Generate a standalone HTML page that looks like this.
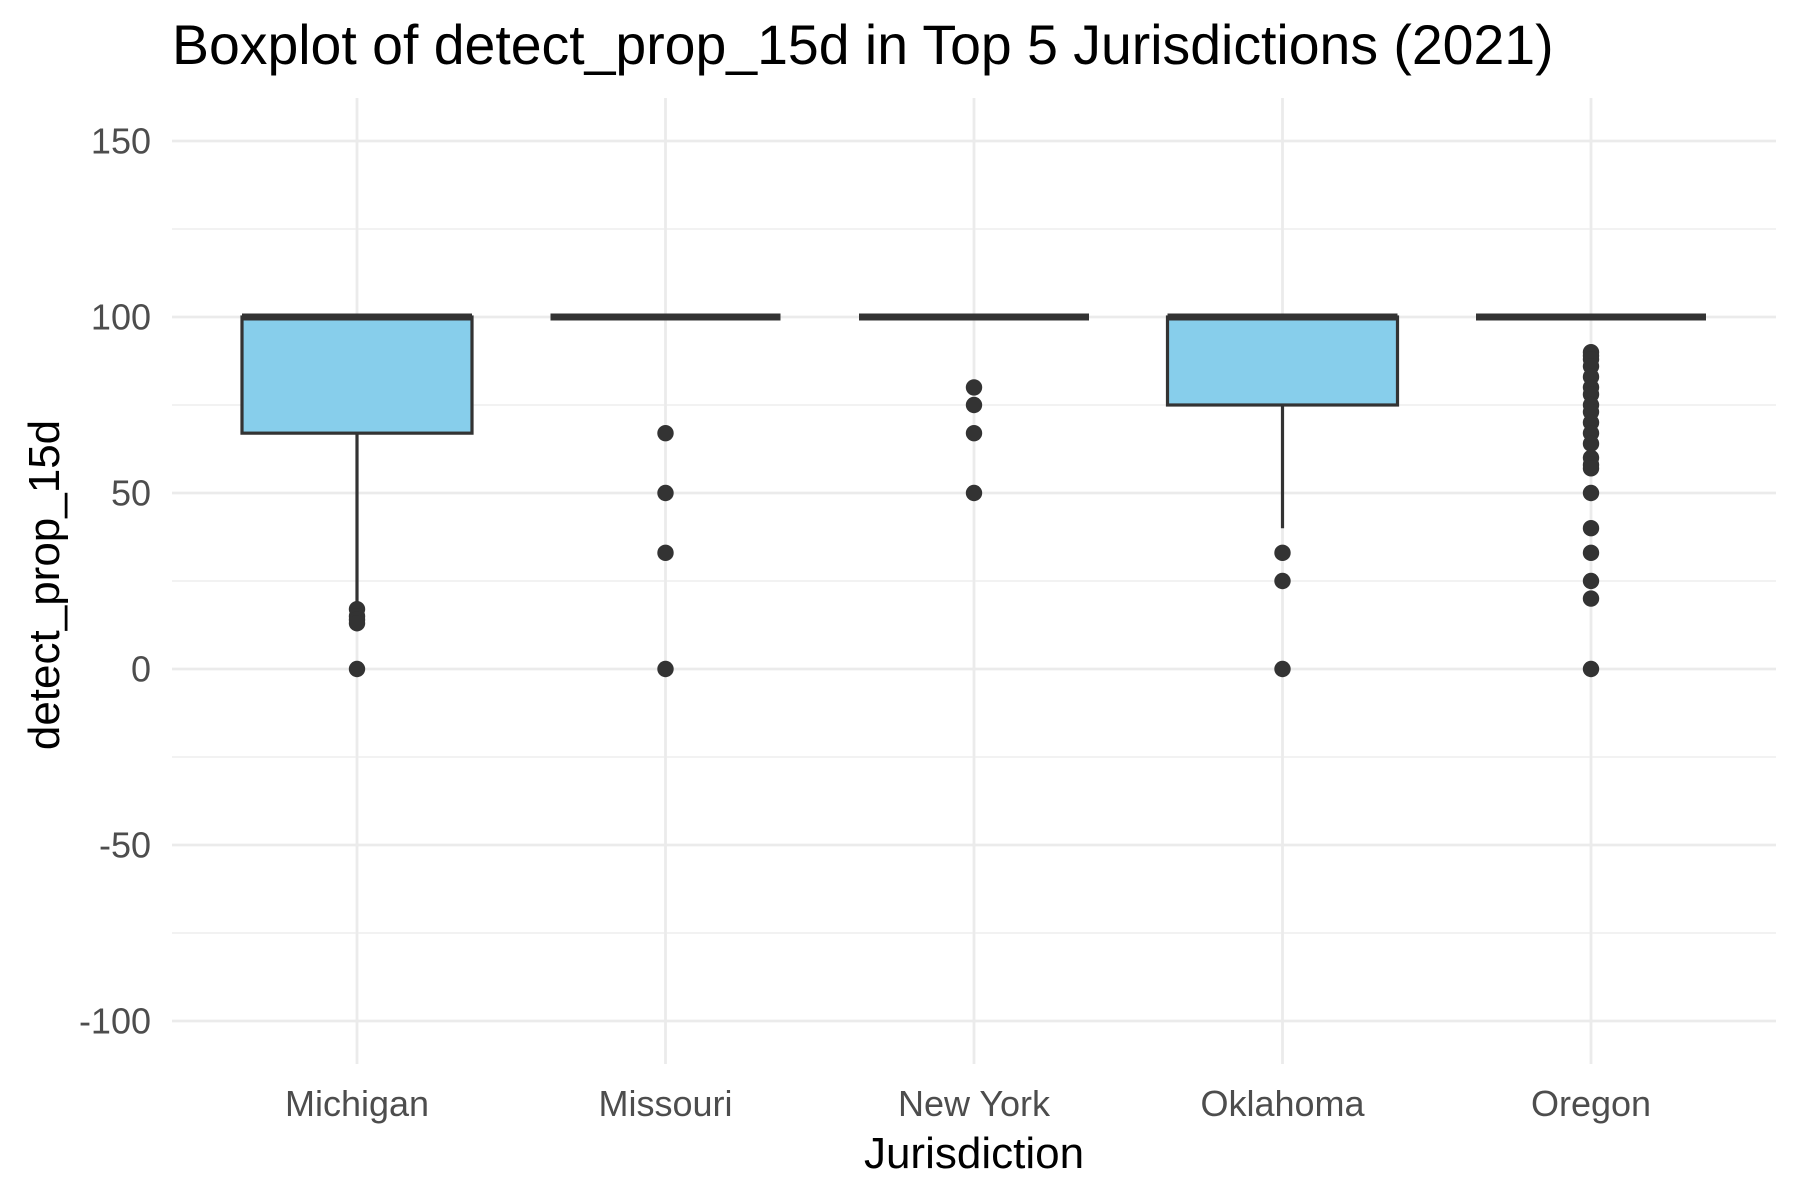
<!DOCTYPE html>
<html><head><meta charset="utf-8"><style>
html,body{margin:0;padding:0;background:#fff}
svg{display:block;font-family:"Liberation Sans",Arial,sans-serif}
</style></head><body>
<svg id="chart" width="1800" height="1200">
<text x="172" y="64" font-size="55.4" fill="#000">Boxplot of detect_prop_15d in Top 5 Jurisdictions (2021)</text>
<g id="grid"></g><g id="marks"></g><g id="axes"></g>
<text x="974" y="1168" font-size="44" text-anchor="middle" fill="#000">Jurisdiction</text>
<text transform="translate(59,585) rotate(-90)" font-size="44" text-anchor="middle" fill="#000">detect_prop_15d</text>
</svg>
<script>
const categories=["Michigan","Missouri","New York","Oklahoma","Oregon"];
const q1=[67,100,100,75,100];
const medians=[100,100,100,100,100];
const q3=[100,100,100,100,100];
const whiskerLow=[17,100,100,40,100];
const whiskerHigh=[100,100,100,100,100];
const outliers=[[17,15,14,13,0],[67,50,33,0],[80,75,67,50],[33,25,0],[90,89,88,86,83,80,78,75,73,70,67,64,60,58,57,50,40,33,25,20,0]];
const yTicks=[-100,-50,0,50,100,150];
const yMinor=[-75,-25,25,75,125];

const NS="http://www.w3.org/2000/svg";
const pLeft=172,pRight=1776,pTop=98,pBottom=1064;
const yS=v=>669-(v)*3.52;
const step=308.5;
const xS=i=>357+step*i;
const bw=230;
function mk(tag,attrs,parent){const e=document.createElementNS(NS,tag);for(const k in attrs)e.setAttribute(k,attrs[k]);document.getElementById(parent).appendChild(e);return e;}
yMinor.forEach(v=>{const l=mk('line',{x1:pLeft,x2:pRight,y1:yS(v),y2:yS(v),stroke:'#ebebeb','stroke-width':1.3},'grid');

});
yTicks.forEach(v=>{const l=mk('line',{x1:pLeft,x2:pRight,y1:yS(v),y2:yS(v),stroke:'#ebebeb','stroke-width':2.8},'grid');


const t=mk('text',{x:pLeft-21,y:yS(v)+12.5,'font-size':36,'text-anchor':'end',fill:'#4d4d4d'},'axes');t.textContent=v;

});
categories.forEach((c,i)=>{const cx=xS(i);
const g=mk('line',{x1:cx,x2:cx,y1:pTop,y2:pBottom,stroke:'#ebebeb','stroke-width':2.8},'grid');


const t=mk('text',{x:cx,y:1116,'font-size':36,'text-anchor':'middle',fill:'#4d4d4d'},'axes');t.textContent=c;


const wl=mk('line',{x1:cx,x2:cx,y1:yS(whiskerLow[i]),y2:yS(q1[i]),stroke:'#333','stroke-width':3.2},'marks');


const wh=mk('line',{x1:cx,x2:cx,y1:yS(whiskerHigh[i]),y2:yS(q3[i]),stroke:'#333','stroke-width':3.2},'marks');


const b=mk('rect',{x:cx-bw/2,y:yS(q3[i]),width:bw,height:Math.max(0,yS(q1[i])-yS(q3[i])),fill:'#87ceeb',stroke:'#333','stroke-width':3.2},'marks');


const m=mk('line',{x1:cx-bw/2,x2:cx+bw/2,y1:yS(medians[i]),y2:yS(medians[i]),stroke:'#333','stroke-width':7},'marks');


outliers[i].forEach(v=>{const p=mk('circle',{cx:cx,cy:yS(v),r:8.2,fill:'#333'},'marks');

});
});
</script>
</body></html>
